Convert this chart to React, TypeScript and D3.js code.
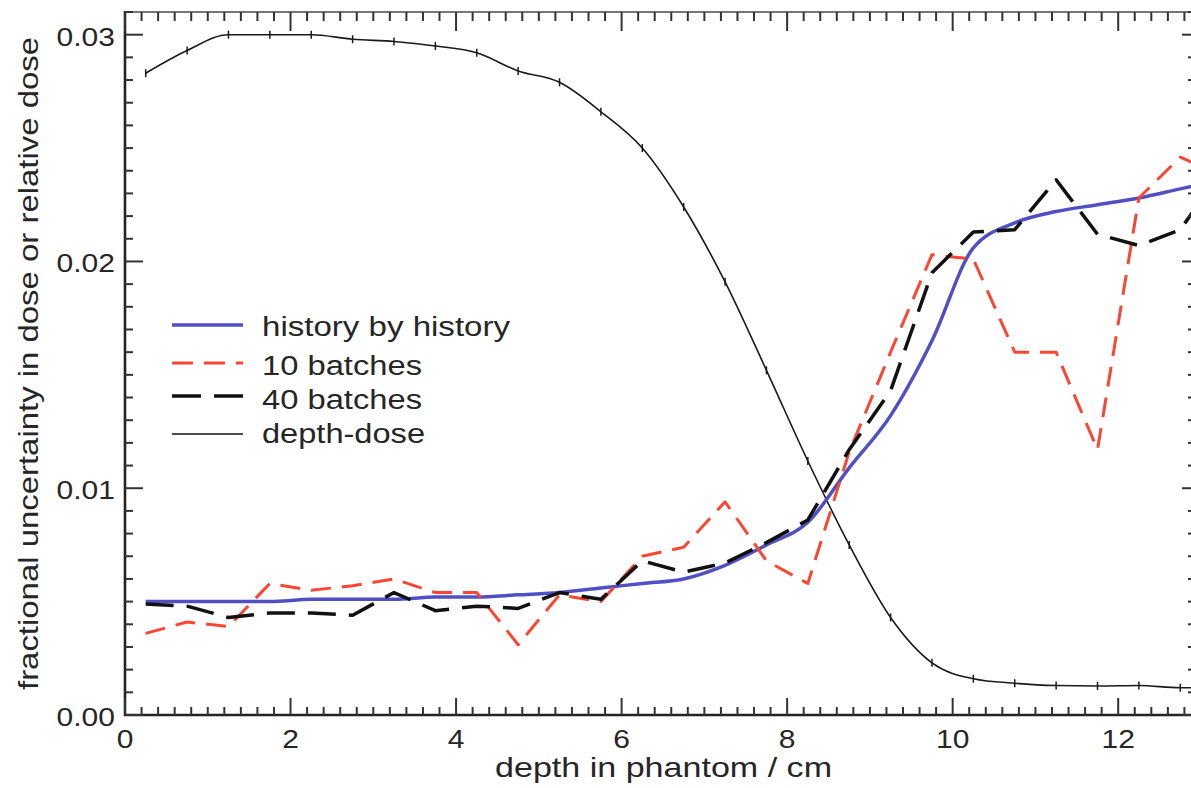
import React from "react";
import * as d3 from "d3";

// depth in phantom / cm (bin centres)
const depths = [0.25, 0.75, 1.25, 1.75, 2.25, 2.75, 3.25, 3.75, 4.25, 4.75, 5.25, 5.75, 6.25, 6.75, 7.25, 7.75, 8.25, 8.75, 9.25, 9.75, 10.25, 10.75, 11.25, 11.75, 12.25, 12.75, 13.25];

const historyByHistory = [0.0050, 0.0050, 0.0050, 0.0050, 0.0051, 0.0051, 0.0051, 0.0052, 0.0052, 0.0053, 0.0054, 0.0056, 0.0058, 0.0060, 0.0066, 0.0075, 0.0085, 0.0109, 0.0132, 0.0165, 0.0206, 0.0217, 0.0222, 0.0225, 0.0228, 0.0232, 0.0236];

const batches10 = [0.0036, 0.0041, 0.0039, 0.0058, 0.0055, 0.0057, 0.0060, 0.0054, 0.0054, 0.0031, 0.0053, 0.0050, 0.0070, 0.0074, 0.0094, 0.0068, 0.0058, 0.0116, 0.0160, 0.0203, 0.0201, 0.0160, 0.0160, 0.0117, 0.0228, 0.0246, 0.0238];

const batches40 = [0.0049, 0.0048, 0.0043, 0.0045, 0.0045, 0.0044, 0.0054, 0.0046, 0.0048, 0.0047, 0.0054, 0.0051, 0.0068, 0.0063, 0.0067, 0.0076, 0.0086, 0.0117, 0.0143, 0.0195, 0.0213, 0.0214, 0.0236, 0.0212, 0.0207, 0.0214, 0.0240];

const depthDose = [0.0283, 0.0293, 0.0300, 0.0300, 0.0300, 0.0298, 0.0297, 0.0295, 0.0292, 0.0284, 0.0279, 0.0266, 0.0250, 0.0224, 0.0191, 0.0152, 0.0112, 0.0075, 0.0043, 0.0023, 0.0016, 0.0014, 0.0013, 0.00128, 0.0013, 0.0012, 0.0012];

const xTickValues = [0, 2, 4, 6, 8, 10, 12];
const xTickLabels = ["0", "2", "4", "6", "8", "10", "12"];
const yTickValues = [0, 0.01, 0.02, 0.03];
const yTickLabels = ["0.00", "0.01", "0.02", "0.03"];

const legendLabels = ["history by history", "10 batches", "40 batches", "depth-dose"];
const xTitle = "depth in phantom / cm";
const yTitle = "fractional uncertainty in dose or relative dose";

const FONT = "'Liberation Sans', Arial, Helvetica, sans-serif";
const TXT = "#262626";
const BLUE = "#5050c4";
const RED = "#fa4632";
const BLACK = "#111111";

export default function App() {
  const W = 1191;
  const H = 788;
  const left = 125, right = 1196, top = 12, bottom = 715;
  const x = d3.scaleLinear().domain([0, 12.94]).range([left, right]);
  const y = d3.scaleLinear().domain([0, 0.031]).range([bottom, top]);

  const pts = (vals: number[]) => depths.map((d, i) => [d, vals[i]] as [number, number]);
  const linear = d3.line<[number, number]>().x(d => x(d[0])).y(d => y(d[1]));
  const smooth = d3.line<[number, number]>().x(d => x(d[0])).y(d => y(d[1])).curve(d3.curveMonotoneX);

  const xMinor = d3.range(0, 65).map(i => i * 0.2).filter(v => Math.abs(v / 2 - Math.round(v / 2)) > 1e-6 && v <= 12.94);
  const yMinor = d3.range(0, 32).map(i => i * 0.001).filter(v => Math.abs(v / 0.01 - Math.round(v / 0.01)) > 1e-6 && v <= 0.031);

  const legendRows = [
    { y: 325, tb: 336, color: BLUE, width: 3.5, dash: "none", tl: 248 },
    { y: 363, tb: 375, color: RED, width: 3, dash: "21,11", tl: 160 },
    { y: 396, tb: 409, color: BLACK, width: 3.5, dash: "29,13", tl: 160 },
    { y: 434, tb: 443, color: BLACK, width: 1.6, dash: "none", tl: 163 },
  ];

  return (
    <svg width={W} height={H} style={{ position: "absolute", left: 0, top: 0, background: "#fff" }}>
      <defs>
        <clipPath id="plot">
          <rect x={left} y={top} width={right - left} height={bottom - top} />
        </clipPath>
      </defs>
      <rect x={0} y={0} width={W} height={H} fill="#fff" />

      {/* data */}
      <g clipPath="url(#plot)" fill="none">
        <path d={smooth(pts(depthDose)) || ""} stroke="#1a1a1a" strokeWidth={1.6} />
        {depths.map((d, i) => (
          <line key={"eb" + i} x1={x(d)} x2={x(d)} y1={y(depthDose[i]) - 4} y2={y(depthDose[i]) + 4} stroke="#1a1a1a" strokeWidth={1.5} />
        ))}
        <path d={smooth(pts(historyByHistory)) || ""} stroke={BLUE} strokeWidth={3.5} strokeLinejoin="round" />
        <path d={linear(pts(batches10)) || ""} stroke={RED} strokeWidth={3} strokeDasharray="20,11" strokeLinejoin="round" />
        <path d={linear(pts(batches40)) || ""} stroke={BLACK} strokeWidth={3.5} strokeDasharray="28,13" strokeLinejoin="round" />
      </g>

      {/* frame */}
      <line x1={left} x2={right} y1={top} y2={top} stroke="#777" strokeWidth={1.8} />
      <line x1={right} x2={right} y1={top} y2={bottom} stroke="#333" strokeWidth={2} />
      <line x1={left} x2={left} y1={top - 1} y2={bottom + 1} stroke="#222" strokeWidth={2.6} />
      <line x1={left - 1} x2={right} y1={bottom} y2={bottom} stroke="#222" strokeWidth={2.6} />

      {/* x ticks bottom & top */}
      <g stroke="#333" strokeWidth={2}>
        {xTickValues.map(v => (
          <g key={"xM" + v}>
            <line x1={x(v)} x2={x(v)} y1={bottom} y2={bottom - 17} />
            <line x1={x(v)} x2={x(v)} y1={top} y2={top + 19} />
          </g>
        ))}
        {xMinor.map(v => (
          <g key={"xm" + v}>
            <line x1={x(v)} x2={x(v)} y1={bottom} y2={bottom - 8} />
            <line x1={x(v)} x2={x(v)} y1={top} y2={top + 9} />
          </g>
        ))}
        {yTickValues.map(v => (
          <g key={"yM" + v}>
            <line x1={left} x2={left + 18} y1={y(v)} y2={y(v)} />
            <line x1={right} x2={right - 14} y1={y(v)} y2={y(v)} />
          </g>
        ))}
        {yMinor.map(v => (
          <g key={"ym" + v}>
            <line x1={left} x2={left + 8} y1={y(v)} y2={y(v)} />
            <line x1={right} x2={right - 8} y1={y(v)} y2={y(v)} />
          </g>
        ))}
      </g>

      {/* tick labels */}
      <g fontFamily={FONT} fontSize={25} fill={TXT}>
        {xTickValues.map((v, i) => (
          <text key={"xl" + v} transform={`translate(${x(v)},748) scale(1.2,1)`} textAnchor="middle">{xTickLabels[i]}</text>
        ))}
        {yTickValues.map((v, i) => (
          <text key={"yl" + v} transform={`translate(115,${y(v) + 11}) scale(1.2,1)`} textAnchor="end">{yTickLabels[i]}</text>
        ))}
      </g>

      {/* axis titles */}
      <text x={495} y={777} fontFamily={FONT} fontSize={28} fill={TXT} textLength={337} lengthAdjust="spacingAndGlyphs">{xTitle}</text>
      <text transform="translate(38,690) rotate(-90)" fontFamily={FONT} fontSize={28} fill={TXT} textLength={653} lengthAdjust="spacingAndGlyphs">{yTitle}</text>

      {/* legend */}
      <g fontFamily={FONT} fontSize={27} fill={TXT}>
        {legendRows.map((r, i) => (
          <g key={"lg" + i}>
            <line x1={172} x2={243} y1={r.y} y2={r.y} stroke={r.color} strokeWidth={r.width} strokeDasharray={r.dash} />
            <text x={262} y={r.tb} textLength={r.tl} lengthAdjust="spacingAndGlyphs">{legendLabels[i]}</text>
          </g>
        ))}
      </g>
    </svg>
  );
}
